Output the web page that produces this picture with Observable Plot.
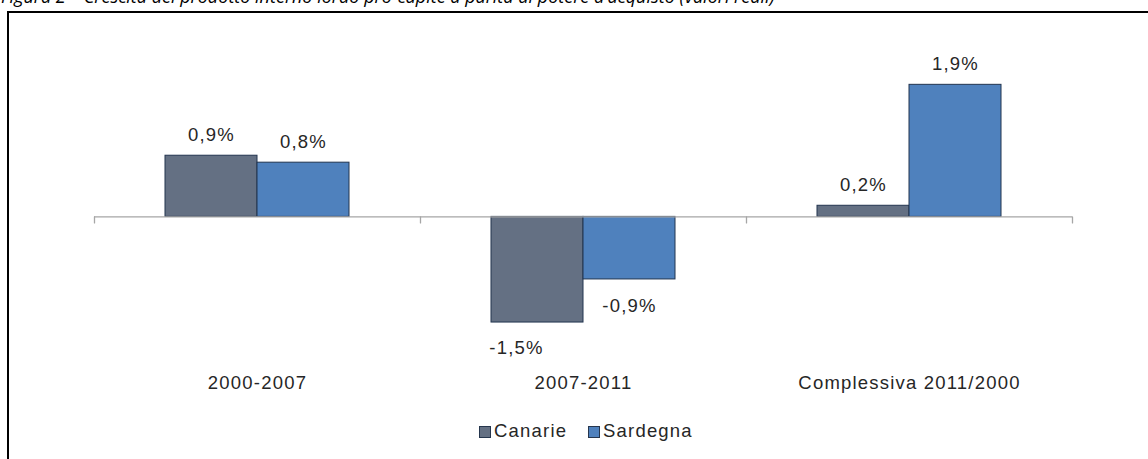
<!DOCTYPE html>
<html>
<head>
<meta charset="utf-8">
<script src="https://cdn.jsdelivr.net/npm/d3@7"></script>
<script src="https://cdn.jsdelivr.net/npm/@observablehq/plot@0.6"></script>
<style>
  html, body { margin: 0; padding: 0; background: #fff; }
  #wrap { position: relative; width: 1148px; height: 459px; overflow: hidden; background: #fff; }
  #title { position: absolute; left: 1px; top: -13px; font-family: "Open Sans", sans-serif; font-style: italic; font-size: 18px; line-height: 19px; color: #000; white-space: nowrap; }
  #frame { position: absolute; left: 7px; top: 11px; width: 1300px; height: 600px; border-left: 2px solid #000; border-top: 2px solid #000; }
  #chart { position: absolute; left: 0; top: 0; }
  #legend { position: absolute; top: 421px; left: 0; width: 1148px; font-family: "Liberation Sans", Arimo, Arial, sans-serif; font-size: 18.5px; letter-spacing: 1.2px; color: #262626; }
  .item { position: absolute; top: 0; white-space: nowrap; line-height: 20px; }
  .sw { display: inline-block; width: 10px; height: 10px; border: 1px solid #26364d; margin-right: 3px; vertical-align: -1px; }
</style>
</head>
<body>
<div id="wrap">
  <div id="title">Figura 2 – Crescita del prodotto interno lordo pro-capite a parità di potere d’acquisto (valori reali)</div>
  <div id="frame"></div>
  <div id="chart"></div>
  <div id="legend"></div>
</div>
<script>
const categories = ["2000-2007", "2007-2011", "Complessiva 2011/2000"];
const series = ["Canarie", "Sardegna"];
const canarie = [0.88, -1.52, 0.16];
const sardegna = [0.78, -0.90, 1.90];
const colors = ["#647083", "#4f81bd"];

const data = [];
categories.forEach((c, i) => {
  data.push({category: c, series: "Canarie", value: canarie[i]});
  data.push({category: c, series: "Sardegna", value: sardegna[i]});
});

const fmt = v => v.toFixed(1).replace(".", ",") + "%";
const lineShape = {draw(context, l) { context.moveTo(0, 0); context.lineTo(0, -l); }};
const axisGrey = "#a6a6a6";
const textColor = "#262626";

const chart = Plot.plot({
  width: 1148,
  height: 400,
  marginLeft: 93,
  marginRight: 75,
  marginTop: 60,
  marginBottom: 44.6,
  style: {fontFamily: "'Liberation Sans', Arimo, Arial, sans-serif", fontSize: "18.5px", letterSpacing: "1.2px", background: "transparent"},
  fx: {domain: categories, padding: 0, axis: null},
  x: {domain: series, paddingInner: 0, paddingOuter: 0.758, axis: null},
  y: {domain: [-2, 2.25], axis: null},
  color: {domain: series, range: colors},
  marks: [
    Plot.barY(data, {fx: "category", x: "series", y: "value", fill: "series", stroke: "#22344f", strokeWidth: 1}),
    Plot.ruleY([0], {stroke: axisGrey, strokeWidth: 1.3}),
    Plot.vector(categories, {fx: d => d, y: 0, frameAnchor: "left", length: 6, rotate: 180, anchor: "start", stroke: axisGrey, strokeWidth: 1.3, shape: lineShape}),
    Plot.vector([categories[categories.length - 1]], {fx: d => d, y: 0, frameAnchor: "right", length: 6, rotate: 180, anchor: "start", stroke: axisGrey, strokeWidth: 1.3, shape: lineShape}),
    Plot.text(data.filter(d => d.value >= 0), {fx: "category", x: "series", y: "value", text: d => fmt(d.value), lineAnchor: "bottom", dy: -15, fill: textColor, fontSize: 18.5}),
    Plot.text(data.filter(d => d.value < 0 && d.series === "Sardegna"), {fx: "category", x: "series", y: "value", text: d => fmt(d.value), lineAnchor: "top", dy: 19, fill: textColor, fontSize: 18.5}),
    Plot.text(data.filter(d => d.value < 0 && d.series === "Canarie"), {fx: "category", x: "series", y: "value", text: d => fmt(d.value), lineAnchor: "top", dy: 18, dx: -21, fill: textColor, fontSize: 18.5}),
    Plot.text(categories, {fx: d => d, text: d => d, frameAnchor: "bottom", lineAnchor: "top", dy: 20, fill: textColor, fontSize: 18.5})
  ]
});
document.getElementById("chart").appendChild(chart);

const legend = document.getElementById("legend");
const legendLeft = [479, 588];
series.forEach((s, i) => {
  const item = document.createElement("div");
  item.className = "item";
  item.style.left = legendLeft[i] + "px";
  const sw = document.createElement("span");
  sw.className = "sw";
  sw.style.background = colors[i];
  item.appendChild(sw);
  item.appendChild(document.createTextNode(s));
  legend.appendChild(item);
});
</script>
</body>
</html>
